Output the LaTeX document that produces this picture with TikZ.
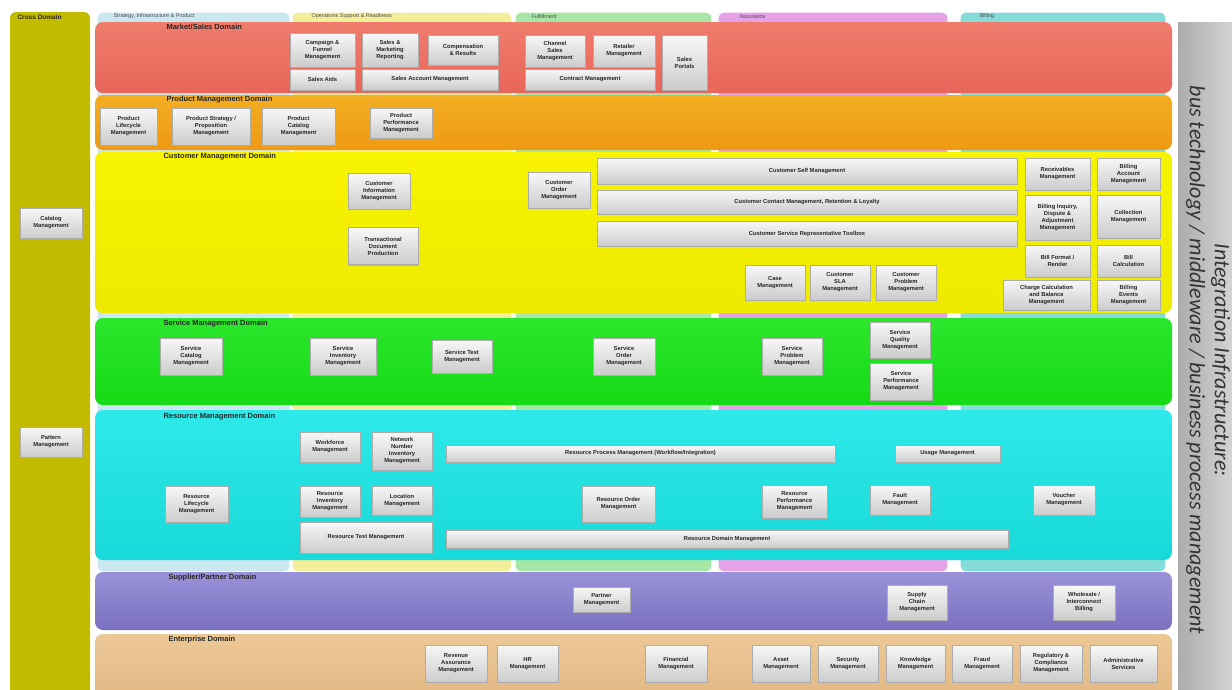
\documentclass[tikz,border=0pt]{standalone}
\usepackage{fontspec}
\setmainfont{Liberation Sans}
\newfontfamily\barfont{Carlito}
\usetikzlibrary{shadows}

\definecolor{crossc}{HTML}{C3BB00}
\definecolor{stratc}{HTML}{CBE7EF}
\definecolor{opsc}{HTML}{F2EE9A}
\definecolor{fulfc}{HTML}{A6E6A6}
\definecolor{assc}{HTML}{E6A2E6}
\definecolor{billc}{HTML}{86DCD8}
\definecolor{markettop}{HTML}{EF7C6C}
\definecolor{marketbot}{HTML}{E8665A}
\definecolor{producttop}{HTML}{F3AE22}
\definecolor{productbot}{HTML}{EE9A12}
\definecolor{customertop}{HTML}{F8F300}
\definecolor{customerbot}{HTML}{EEEA00}
\definecolor{servicetop}{HTML}{2CE62C}
\definecolor{servicebot}{HTML}{16DA16}
\definecolor{resourcetop}{HTML}{2EE9E9}
\definecolor{resourcebot}{HTML}{18D9D9}
\definecolor{suppliertop}{HTML}{9A92D8}
\definecolor{supplierbot}{HTML}{7A70C0}
\definecolor{enterprisetop}{HTML}{ECC896}
\definecolor{enterprisebot}{HTML}{E2B884}

\tikzset{
  app/.style={draw=gray!65, top color=white!94!gray, bottom color=gray!40,
    drop shadow={opacity=0.35, shadow xshift=1.2pt, shadow yshift=-1.2pt},
    font=\bfseries\fontsize{5.8}{7}\selectfont, text=black!85,
    align=center, inner sep=1pt},
  box/.style 2 args={app, minimum width=#1, minimum height=#2},
  column/.style={draw=white, line width=1.2pt, rounded corners=6pt},
  tab/.style={anchor=west, font=\fontsize{5.5}{6}\selectfont, text=black!70},
  dlabel/.style={anchor=west, font=\bfseries\fontsize{7.5}{9}\selectfont, text=black!85},
  domain/.style={rounded corners=8pt, top color=#1top, bottom color=#1bot},
}

\begin{document}
\begin{tikzpicture}[x=1pt,y=-1pt]
\useasboundingbox[fill=white] (0,0) rectangle (1232,689);

% columns behind the domains
\fill[column, fill=stratc] (97,12) rectangle (290,572);
\fill[column, fill=opsc] (292,12) rectangle (512,572);
\fill[column, fill=fulfc] (515,12) rectangle (712,572);
\fill[column, fill=assc] (718,12) rectangle (948,572);
\fill[column, fill=billc] (960,12) rectangle (1166,572);
\node[tab] (tstrat) at (110,16.5) {Strategy, Infrastructure \& Product};
\node[tab] (tops) at (308,16.5) {Operations Support \& Readiness};
\node[tab] (tfulf) at (528,16.5) {Fulfillment};
\node[tab] (tass) at (736,16.5) {Assurance};
\node[tab] (tbill) at (976,16.5) {Billing};

% cross domain
\fill[crossc, rounded corners=6pt] (10,12) rectangle (90,700);
\node[dlabel, font=\bfseries\fontsize{6.5}{8}\selectfont] (lcross) at (14,17) {Cross Domain};
\node[box={62}{30}] (catm) at (51,223) {Catalog\\Management};
\node[box={62}{30}] (patm) at (51,442) {Pattern\\Management};

% integration bar
\shade[left color=gray!65, right color=gray!30] (1178,22) rectangle (1240,700);
\node[rotate=-90, align=center, text=black!80,
  font=\barfont\itshape\fontsize{22}{25}\selectfont] (bus) at (1208,360)
  {Integration Infrastructure:\\bus technology / middleware / business process management};

% domains
\shade[domain=market] (95,22) rectangle (1172,93);
\shade[domain=product] (95,95) rectangle (1172,150);
\shade[domain=customer] (95,152) rectangle (1172,313);
\shade[domain=service] (95,318) rectangle (1172,405);
\shade[domain=resource] (95,410) rectangle (1172,560);
\shade[domain=supplier] (95,572) rectangle (1172,630);
\shade[domain=enterprise] (95,634) rectangle (1172,700);

\node[dlabel] (lmarket) at (163,27) {Market/Sales Domain};
\node[dlabel] (lproduct) at (163,100) {Product Management Domain};
\node[dlabel] (lcustomer) at (160,157) {Customer Management Domain};
\node[dlabel] (lservice) at (160,324) {Service Management Domain};
\node[dlabel] (lresource) at (160,417) {Resource Management Domain};
\node[dlabel] (lsupplier) at (165,578) {Supplier/Partner Domain};
\node[dlabel] (lenterprise) at (165,640) {Enterprise Domain};

% market / sales
\node[box={65}{34}] (cfm) at (322.5,50) {Campaign \&\\Funnel\\Management};
\node[box={56}{34}] (smr) at (390,50) {Sales \&\\Marketing\\Reporting};
\node[box={70}{30}] (cr) at (463,50) {Compensation\\\& Results};
\node[box={65}{21}] (sa) at (322.5,79.5) {Sales Aids};
\node[box={136}{21}] (sam) at (430,79.5) {Sales Account Management};
\node[box={60}{32}] (csm) at (555,51) {Channel\\Sales\\Management};
\node[box={62}{32}] (rtm) at (624,51) {Retailer\\Management};
\node[box={130}{21}] (ctm) at (590,79.5) {Contract Management};
\node[box={45}{55}] (sp) at (684.5,62.5) {Sales\\Portals};

% product
\node[box={57}{37}] (plm) at (128.5,126.5) {Product\\Lifecycle\\Management};
\node[box={78}{37}] (pspm) at (211,126.5) {Product Strategy /\\Proposition\\Management};
\node[box={73}{37}] (pcm) at (298.5,126.5) {Product\\Catalog\\Management};
\node[box={62}{30}] (ppm) at (401,123) {Product\\Performance\\Management};

% customer
\node[box={62}{36}] (cim) at (379,191) {Customer\\Information\\Management};
\node[box={70}{37}] (tdp) at (383,246) {Transactional\\Document\\Production};
\node[box={62}{36}] (com) at (559,190) {Customer\\Order\\Management};
\node[box={420}{26}] (cself) at (807,171) {Customer Self Management};
\node[box={420}{24}] (ccm) at (807,202) {Customer Contact Management, Retention \& Loyalty};
\node[box={420}{25}] (csr) at (807,233.5) {Customer Service Representative Toolbox};
\node[box={60}{35}] (case) at (775,282.5) {Case\\Management};
\node[box={60}{35}] (csla) at (840,282.5) {Customer\\SLA\\Management};
\node[box={60}{35}] (cpm) at (906,282.5) {Customer\\Problem\\Management};
\node[box={65}{32}] (rcv) at (1057.5,174) {Receivables\\Management};
\node[box={63}{32}] (bam) at (1128.5,174) {Billing\\Account\\Management};
\node[box={65}{45}] (bida) at (1057.5,217.5) {Billing Inquiry,\\Dispute \&\\Adjustment\\Management};
\node[box={63}{43}] (colm) at (1128.5,216.5) {Collection\\Management};
\node[box={65}{32}] (bfr) at (1057.5,261) {Bill Format /\\Render};
\node[box={63}{32}] (bcalc) at (1128.5,261) {Bill\\Calculation};
\node[box={87}{30}] (ccbm) at (1046.5,295) {Charge Calculation\\and Balance\\Management};
\node[box={63}{30}] (bem) at (1128.5,295) {Billing\\Events\\Management};

% service
\node[box={62}{37}] (scm) at (191,356.5) {Service\\Catalog\\Management};
\node[box={66}{37}] (sim) at (343,356.5) {Service\\Inventory\\Management};
\node[box={60}{33}] (stm) at (462,356.5) {Service Test\\Management};
\node[box={62}{37}] (som) at (624,356.5) {Service\\Order\\Management};
\node[box={60}{37}] (spm) at (792,356.5) {Service\\Problem\\Management};
\node[box={60}{36}] (sqm) at (900,340) {Service\\Quality\\Management};
\node[box={62}{37}] (sperf) at (901,381.5) {Service\\Performance\\Management};

% resource
\node[box={60}{30}] (wfm) at (330,447) {Workforce\\Management};
\node[box={60}{38}] (nnim) at (402,451) {Network\\Number\\Inventory\\Management};
\node[box={389}{17}] (rpm) at (640.5,453.5) {Resource Process Management (Workflow/Integration)};
\node[box={105}{17}] (um) at (947.5,453.5) {Usage Management};
\node[box={63}{36}] (rlm) at (196.5,504) {Resource\\Lifecycle\\Management};
\node[box={60}{31}] (rim) at (330,501.5) {Resource\\Inventory\\Management};
\node[box={60}{29}] (lm) at (402,500.5) {Location\\Management};
\node[box={73}{36}] (rom) at (618.5,504) {Resource Order\\Management};
\node[box={65}{33}] (rperf) at (794.5,501.5) {Resource\\Performance\\Management};
\node[box={60}{30}] (fm) at (900,500) {Fault\\Management};
\node[box={62}{30}] (vm) at (1064,500) {Voucher\\Management};
\node[box={132}{31}] (rtest) at (366,537.5) {Resource Test Management};
\node[box={562}{18}] (rdm) at (727,539) {Resource Domain Management};

% supplier / partner
\node[box={57}{25}] (pm) at (601.5,599.5) {Partner\\Management};
\node[box={60}{35}] (sccm) at (917,602.5) {Supply\\Chain\\Management};
\node[box={62}{35}] (wib) at (1084,602.5) {Wholesale /\\Interconnect\\Billing};

% enterprise
\node[box={62}{37}] (ram) at (456,663.5) {Revenue\\Assurance\\Management};
\node[box={61}{37}] (hrm) at (527.5,663.5) {HR\\Management};
\node[box={62}{37}] (fin) at (676,663.5) {Financial\\Management};
\node[box={58}{37}] (am) at (781,663.5) {Asset\\Management};
\node[box={60}{37}] (secm) at (848,663.5) {Security\\Management};
\node[box={59}{37}] (km) at (915.5,663.5) {Knowledge\\Management};
\node[box={60}{37}] (frm) at (982,663.5) {Fraud\\Management};
\node[box={62}{37}] (rcm) at (1051,663.5) {Regulatory \&\\Compliance\\Management};
\node[box={67}{37}] (adm) at (1123.5,663.5) {Administrative\\Services};
\end{tikzpicture}
\end{document}
